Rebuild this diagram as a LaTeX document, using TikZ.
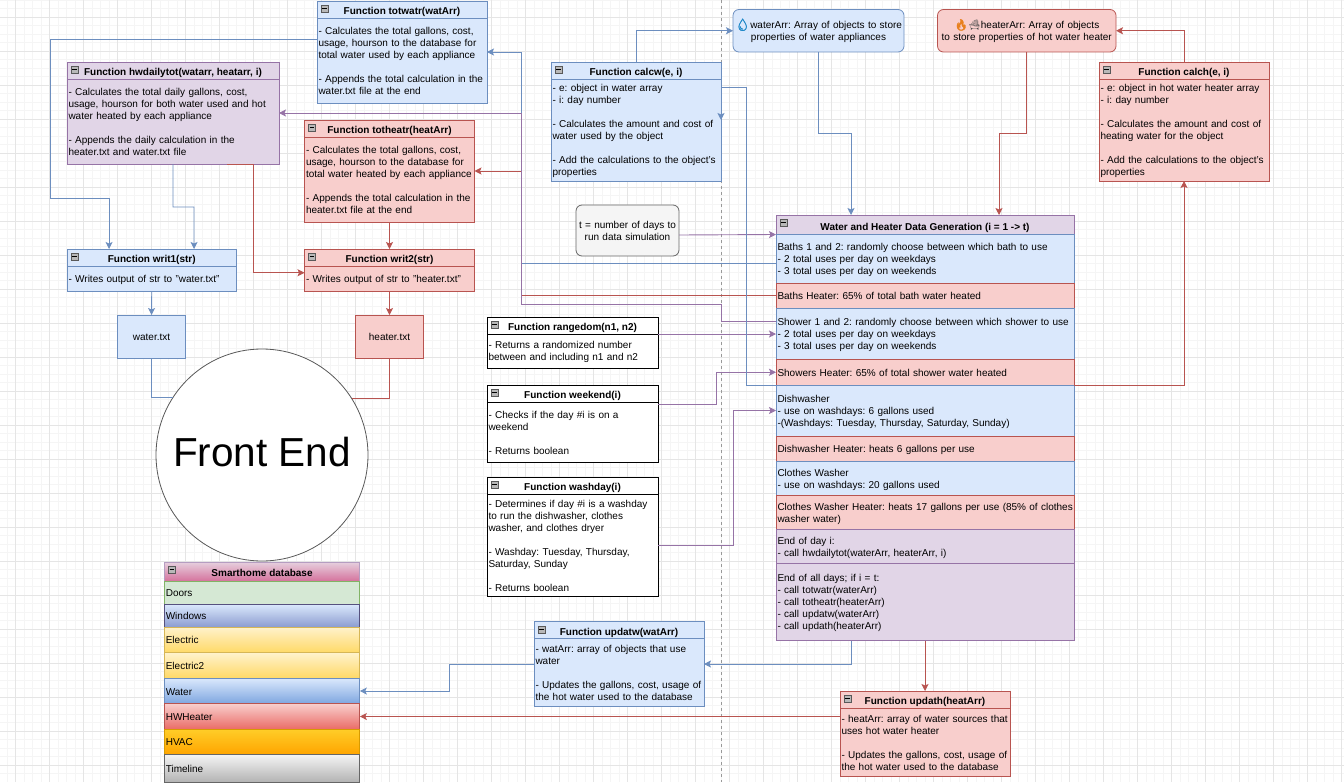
\documentclass[tikz,border=0pt]{standalone}
\usepackage{fontspec}
\setmainfont{Liberation Sans}
\newfontfamily\emojifont{Noto Emoji}
\newfontfamily\emojisolid{Noto Emoji}[FakeBold=3]
\frenchspacing
\usetikzlibrary{positioning,fit,arrows.meta}

\definecolor{bluefill}{HTML}{DAE8FC}
\definecolor{bluedraw}{HTML}{6C8EBF}
\definecolor{redfill}{HTML}{F8CECC}
\definecolor{reddraw}{HTML}{B85450}
\definecolor{purplefill}{HTML}{E1D5E7}
\definecolor{purpledraw}{HTML}{9673A6}
\definecolor{dropblue}{HTML}{1E88C8}
\definecolor{flameorange}{HTML}{E8801E}
\definecolor{dbpinktop}{HTML}{E6D0DE}
\definecolor{dbpinkbot}{HTML}{D5739D}
\definecolor{dbgreen}{HTML}{D5E8D4}
\definecolor{dbgreendraw}{HTML}{82B366}
\definecolor{dbwinbot}{HTML}{8C9CD0}
\definecolor{dbwindraw}{HTML}{56517E}
\definecolor{dbyeltop}{HTML}{FFF2CC}
\definecolor{dbyelbot}{HTML}{FFD966}
\definecolor{dbyeldraw}{HTML}{D6B656}
\definecolor{dbbluebot}{HTML}{7EA6E0}
\definecolor{dbredbot}{HTML}{EA6B66}
\definecolor{dbhvactop}{HTML}{FFCD28}
\definecolor{dbhvacbot}{HTML}{FFA500}
\definecolor{dbhvacdraw}{HTML}{D79B00}
\definecolor{dbgreytop}{HTML}{F5F5F5}
\definecolor{dbgreybot}{HTML}{B3B3B3}
\definecolor{dbgreydraw}{HTML}{666666}

\tikzset{
  txt/.style={font=\fontsize{10}{12}\selectfont, text=black},
  titletxt/.style={font=\fontsize{10}{12}\selectfont\bfseries, text height=12.5pt, text depth=2pt},
  rows/.style={execute at begin node={\rule{0pt}{10pt}}, execute at end node={\rule[-2pt]{0pt}{2pt}}},
  box/.style={draw, line width=0.8pt, rectangle, outer sep=0pt, inner xsep=1.5pt, inner ysep=0pt, txt},
  bluebox/.style={box, fill=bluefill, draw=bluedraw},
  redbox/.style={box, fill=redfill, draw=reddraw},
  purplebox/.style={box, fill=purplefill, draw=purpledraw},
  plainbox/.style={box, fill=white, draw=black},
  filebox/.style={minimum width=68pt, minimum height=43pt, text height=10pt, text depth=2pt},
  arrbox/.style={rounded corners=6pt, minimum width=#1, text width={#1-3pt}, minimum height=42.5pt, align=center, rows},
  genrow/.style={minimum width=298pt, text width=295pt, align=left, rows},
  dbrow/.style={box, minimum width=195.5pt, text width=192.5pt, align=left, rows},
  foldbox/.style={draw=black!65, fill=black!28, line width=0.6pt, minimum size=7pt, inner sep=0pt, outer sep=0pt},
  wire/.style={line width=0.9pt, ->},
  bluewire/.style={wire, draw=bluedraw},
  redwire/.style={wire, draw=reddraw},
  purplewire/.style={wire, draw=purpledraw},
}

\newcommand{\foldicon}[1]{
  \node[foldbox] (#1m) at ([xshift=7.5pt,yshift=-7.8pt]#1t.north west) {};
  \draw[black, line width=0.9pt] ([xshift=1.4pt]#1m.west) -- ([xshift=-1.4pt]#1m.east);
}
\newcommand{\fnbox}[8]{
  \node[#1, titletxt, anchor=north west, minimum width=#5pt, minimum height=17pt] (#2t) at (#3,#4) {#7};
  \node[#1, below=0pt of #2t, minimum width=#5pt, minimum height=#6pt, text width={#5pt-3pt}, align=left, rows] (#2b) {#8};
  \node[fit=(#2t)(#2b), inner sep=0pt, outer sep=0pt] (#2) {};
  \foldicon{#2}
}

\begin{document}
\begin{tikzpicture}[x=1pt, y=-1pt, >={Stealth[length=7pt,width=7pt,inset=1.5pt]}]
  \useasboundingbox (0,0) rectangle (1344,784);
  \foreach \i in {0,...,158}
    \draw[black!4, line width=0.6pt] ({6.8+8.5*\i},0) -- ({6.8+8.5*\i},781.5);
  \foreach \i in {0,...,91}
    \draw[black!4, line width=0.6pt] (0,{0+8.5*\i}) -- (1344,{0+8.5*\i});
  \foreach \i in {0,...,39}
    \draw[black!10, line width=0.8pt] ({15.5+34*\i},0) -- ({15.5+34*\i},781.5);
  \foreach \i in {0,...,22}
    \draw[black!10, line width=0.8pt] (0,{17+34*\i}) -- (1344,{17+34*\i});
  \draw[black!40, dashed, line width=0.6pt] (721,0) -- (721,781.5);
  \coordinate (busx) at (521.5,0);

  \fnbox{bluebox}{totwatr}{317}{1}{170}{85}{Function totwatr(watArr)}{- Calculates the total gallons, cost,\\usage, hourson to the database for\\total water used by each appliance\\[12pt]- Appends the total calculation in the\\water.txt file at the end}
  \fnbox{purplebox}{hwdaily}{67}{62}{212}{85}{Function hwdailytot(watarr, heatarr, i)}{- Calculates the total daily gallons, cost,\\usage, hourson for both water used and hot\\water heated by each appliance\\[12pt]- Appends the daily calculation in the\\heater.txt and water.txt file}
  \fnbox{redbox}{totheatr}{304.5}{120}{170}{85}{Function totheatr(heatArr)}{- Calculates the total gallons, cost,\\usage, hourson to the database for\\total water heated by each appliance\\[12pt]- Appends the total calculation in the\\heater.txt file at the end}
  \fnbox{bluebox}{writ1}{67}{249}{169.5}{25.5}{Function writ1(str)}{- Writes output of str to "water.txt"}
  \fnbox{redbox}{writ2}{304.5}{249}{170}{25.5}{Function writ2(str)}{- Writes output of str to "heater.txt"}
  \node[bluebox, filebox, anchor=north] (watertxt) at (151.5,315) {water.txt};
  \node[redbox, filebox, anchor=north] (heatertxt) at (389.5,315) {heater.txt};
  \node[circle, draw=black!65, fill=white, line width=0.8pt, minimum size=212pt, inner sep=0pt, outer sep=0pt, font=\fontsize{40.5}{48}\selectfont, text depth=7pt] (frontend) at (262,455) {Front End};

  \fnbox{bluebox}{calcw}{551}{62}{170}{102}{Function calcw(e, i)}{- e: object in water array\\- i: day number\\[12pt]- Calculates the amount and cost of\\water used by the object\\[12pt]- Add the calculations to the object's\\properties}
  \fnbox{redbox}{calch}{1099}{62}{170}{102}{Function calch(e, i)}{- e: object in hot water heater array\\- i: day number\\[12pt]- Calculates the amount and cost of\\heating water for the object\\[12pt]- Add the calculations to the object's\\properties}
  \node[bluebox, arrbox=171pt, anchor=north west] (waterarr) at (733,9.5) {{\emojisolid\fontsize{12}{12}\selectfont\textcolor{dropblue}{💧}}waterArr: Array of objects to store\\properties of water appliances};
  \node[redbox, arrbox=178.5pt, anchor=north west] (heaterarr) at (937.5,9.5) {{\emojisolid\fontsize{11}{12}\selectfont\textcolor{flameorange}{🔥}}{\emojifont\textcolor{black!70}{🛁}}heaterArr: Array of objects\\to store properties of hot water heater};
  \node[box, fill=black!4, draw=black!60, rounded corners=6pt, minimum width=103pt, text width=100pt, minimum height=51pt, align=center, rows, anchor=north west] (days) at (576,205) {t = number of days to\\run data simulation};

  \fnbox{plainbox}{rangedom}{487}{317}{171}{34}{Function rangedom(n1, n2)}{- Returns a randomized number\\between and including n1 and n2}
  \fnbox{plainbox}{weekend}{487}{385}{171}{60}{Function weekend(i)}{- Checks if the day \#i is on a\\weekend\\[12pt]- Returns boolean}
  \fnbox{plainbox}{washday}{487}{477}{171}{102}{Function washday(i)}{- Determines if day \#i is a washday\\to run the dishwasher, clothes\\washer, and clothes dryer\\[12pt]- Washday: Tuesday, Thursday,\\Saturday, Sunday\\[12pt]- Returns boolean}
  \fnbox{bluebox}{updatw}{534}{621.5}{170}{68}{Function updatw(watArr)}{- watArr: array of objects that use\\water\\[12pt]- Updates the gallons, cost, usage of\\the hot water used to the database}
  \fnbox{redbox}{updath}{840}{691}{170}{68}{Function updath(heatArr)}{- heatArr: array of water sources that\\uses hot water heater\\[12pt]- Updates the gallons, cost, usage of\\the hot water used to the database}

  \node[purplebox, titletxt, anchor=north west, minimum width=298pt, minimum height=19.5pt] (gent) at (776,215) {Water and Heater Data Generation (i = 1 -> t)};
  \foldicon{gen}
  \node[bluebox, genrow, minimum height=48.5pt, below=0pt of gent] (baths) {Baths 1 and 2: randomly choose between which bath to use\\- 2 total uses per day on weekdays\\- 3 total uses per day on weekends};
  \node[redbox, genrow, minimum height=25.5pt, below=0pt of baths] (bathsheat) {Baths Heater: 65\% of total bath water heated};
  \node[bluebox, genrow, minimum height=51pt, below=0pt of bathsheat] (shower) {Shower 1 and 2: randomly choose between which shower to use\\- 2 total uses per day on weekdays\\- 3 total uses per day on weekends};
  \node[redbox, genrow, minimum height=25.5pt, below=0pt of shower] (showerheat) {Showers Heater: 65\% of total shower water heated};
  \node[bluebox, genrow, minimum height=51pt, below=0pt of showerheat] (dish) {Dishwasher\\- use on washdays: 6 gallons used\\-(Washdays: Tuesday, Thursday, Saturday, Sunday)};
  \node[redbox, genrow, minimum height=25.5pt, below=0pt of dish] (dishheat) {Dishwasher Heater: heats 6 gallons per use};
  \node[bluebox, genrow, minimum height=34pt, below=0pt of dishheat] (clothes) {Clothes Washer\\- use on washdays: 20 gallons used};
  \node[redbox, genrow, minimum height=34pt, below=0pt of clothes] (clothesheat) {\mbox{Clothes Washer Heater: heats 17 gallons per use (85\% of clothes}\\washer water)};
  \node[purplebox, genrow, minimum height=34pt, below=0pt of clothesheat] (dayend) {End of day i:\\- call hwdailytot(waterArr, heaterArr, i)};
  \node[purplebox, genrow, minimum height=77pt, below=0pt of dayend] (allend) {End of all days; if i = t:\\- call totwatr(waterArr)\\- call totheatr(heaterArr)\\- call updatw(waterArr)\\- call updath(heaterArr)};

  \node[box, titletxt, draw=purpledraw!70, top color=dbpinktop, bottom color=dbpinkbot, minimum width=195.5pt, minimum height=19pt, anchor=north west] (dbt) at (164.3,562) {Smarthome database};
  \foldicon{db}
  \node[dbrow, fill=dbgreen, draw=dbgreendraw, minimum height=23.3pt, below=0pt of dbt] (dbdoors) {Doors};
  \node[dbrow, top color=bluefill, bottom color=dbwinbot, draw=dbwindraw, minimum height=22.7pt, below=0pt of dbdoors] (dbwindows) {Windows};
  \node[dbrow, top color=dbyeltop, bottom color=dbyelbot, draw=dbyeldraw, minimum height=25.7pt, below=0pt of dbwindows] (dbelectric) {Electric};
  \node[dbrow, top color=dbyeltop, bottom color=dbyelbot, draw=dbyeldraw, minimum height=25.6pt, below=0pt of dbelectric] (dbelectrictwo) {Electric2};
  \node[dbrow, top color=bluefill, bottom color=dbbluebot, draw=bluedraw, minimum height=25.4pt, below=0pt of dbelectrictwo] (dbwater) {Water};
  \node[dbrow, top color=redfill, bottom color=dbredbot, draw=reddraw, minimum height=25.6pt, below=0pt of dbwater] (dbheater) {HWHeater};
  \node[dbrow, top color=dbhvactop, bottom color=dbhvacbot, draw=dbhvacdraw, minimum height=25pt, below=0pt of dbheater] (dbhvac) {HVAC};
  \node[dbrow, top color=dbgreytop, bottom color=dbgreybot, draw=dbgreydraw, minimum height=27.7pt, below=0pt of dbhvac] (dbtimeline) {Timeline};

  \draw[bluewire] (totwatr.west |- 0,39.5) -| (50,198) -| ([xshift=-42.7pt]writ1.north);
  \draw[bluewire] (hwdaily.south) |- (194,207) -- ([xshift=42.3pt]writ1.north);
  \draw[redwire] ([xshift=54pt]hwdaily.south) -- ([xshift=80pt]hwdaily.south) |- ([yshift=-2.5pt]writ2.west);
  \draw[redwire] (totheatr.south) -- (writ2.north);
  \draw[bluewire] (writ1.south) -- (watertxt.north);
  \draw[redwire] (writ2.south) -- (heatertxt.north);
  \draw[bluewire, -] (watertxt.south) |- (frontend.147.5);
  \draw[redwire, -] (heatertxt.south) |- (frontend.32.5);
  \draw[bluewire] (calcw.north) |- (waterarr.west);
  \draw[redwire] (calch.north) |- (heaterarr.east);
  \draw[bluewire] (waterarr.south) |- (851,133.5) -- ([xshift=-74pt]gent.north);
  \draw[redwire] (heaterarr.south) |- (999,133.5) -- ([xshift=74pt]gent.north);
  \draw[purplewire] ([yshift=-4.5pt]days.east) -- (gent.south west);
  \draw[bluewire] ([yshift=-4.5pt]baths.west) -| (busx |- totwatr.east) -- (totwatr.east);
  \draw[redwire] (bathsheat.west) -| (busx |- totheatr.east) -- (totheatr.east);
  \draw[purplewire] ([yshift=12.5pt]shower.west) -| (721,304) -| (busx |- hwdaily.east) -- (hwdaily.east);
  \draw[purplewire] (shower.west -| rangedom.east) -- (shower.west);
  \draw[purplewire] (weekend.east |- 0,404) -| (716.5,372.25) -- (showerheat.west);
  \draw[purplewire] (washday.east |- 0,545) -| (733.5,410.5) -- (dish.west);
  \draw[bluewire] (showerheat.south west) -| (746.5,87.5) -| (calcw.east |- 0,120);
  \draw[redwire] (showerheat.south east) -| (calch.south);
  \draw[bluewire] ([xshift=-74pt]allend.south) |- (updatw.east);
  \draw[redwire] (allend.south) -- (updath.north -| allend.south);
  \draw[bluewire] (updatw.west) -- ++(-85,0) |- (dbwater.east);
  \draw[redwire] (dbheater.east -| updath.west) -- (dbheater.east);
\end{tikzpicture}
\end{document}
